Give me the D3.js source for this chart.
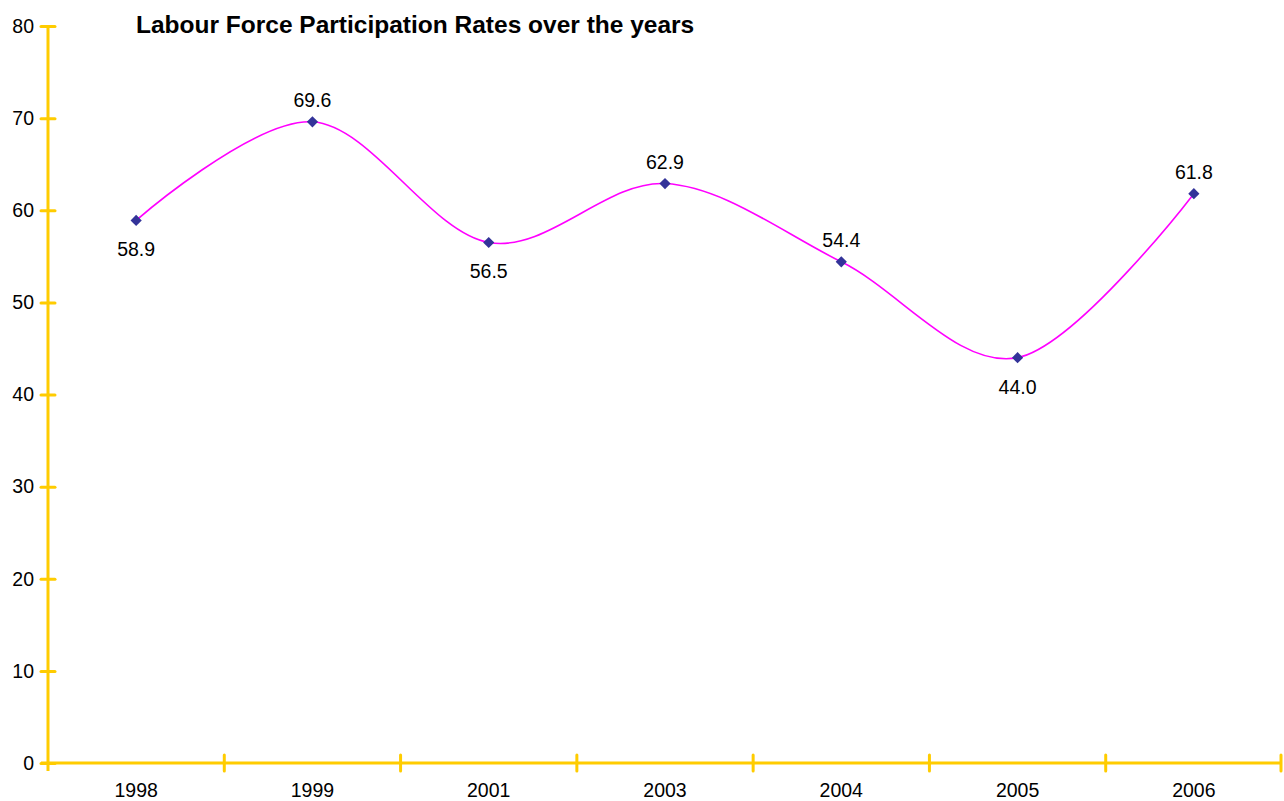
<!DOCTYPE html>
<html><head><meta charset="utf-8">
<script src="https://cdn.jsdelivr.net/npm/d3@7"></script>
<style>body{margin:0;background:#fff;}svg{display:block;}</style>
</head><body>
<svg id="c" width="1284" height="801"></svg>
<script>
const categories = ["1998","1999","2001","2003","2004","2005","2006"];
const values = [58.9, 69.6, 56.5, 62.9, 54.4, 44.0, 61.8];
const labelPos = ["below","above","below","above","above","below","above"];
const yTicks = [0,10,20,30,40,50,60,70,80];
const title = "Labour Force Participation Rates over the years";

const svg = d3.select("#c");
const font = "Liberation Sans, Arial, sans-serif";
const x = d3.scaleBand().domain(categories).range([48, 1282]);
const y = d3.scaleLinear().domain([0, 80]).range([763, 26]);
const axisColor = "#FFCC00";

// y axis
const ya = svg.append("g").attr("transform","translate(48,0)")
  .call(d3.axisLeft(y).tickValues(yTicks).tickSize(7).tickPadding(7));
ya.select(".domain").remove();
ya.selectAll(".tick line").attr("stroke",axisColor).attr("stroke-width",3).attr("x2",7).attr("x1",-7).attr("stroke-linecap","round");
ya.selectAll(".tick text").attr("font-family",font).attr("font-size",19.5).attr("fill","#000").attr("x",-14);
svg.append("line").attr("x1",48).attr("x2",48).attr("y1",y(80)).attr("y2",y(0)+8)
  .attr("stroke",axisColor).attr("stroke-width",3);

// x axis
svg.append("line").attr("x1",41).attr("x2",1282).attr("y1",y(0)).attr("y2",y(0))
  .attr("stroke",axisColor).attr("stroke-width",3);
const bounds = categories.map(c => x(c) + x.bandwidth());
svg.selectAll(".xt").data(bounds).enter().append("line")
  .attr("x1",d=>Math.min(d,1281)).attr("x2",d=>Math.min(d,1281))
  .attr("y1",y(0)-8).attr("y2",y(0)+8)
  .attr("stroke",axisColor).attr("stroke-width",3).attr("stroke-linecap","round");
svg.selectAll(".xl").data(categories).enter().append("text")
  .attr("x",d=>x(d)+x.bandwidth()/2).attr("y",797)
  .attr("text-anchor","middle").attr("font-family",font).attr("font-size",19.5).text(d=>d);

// title
svg.append("text").attr("x",136).attr("y",33).attr("font-family",font)
  .attr("font-size",24.5).attr("font-weight","bold").text(title);

// line
const pts = categories.map((c,i)=>[x(c)+x.bandwidth()/2, y(values[i])]);
svg.append("path").attr("d", d3.line().curve(d3.curveCardinal.tension(0))(pts))
  .attr("fill","none").attr("stroke","#FF00FF").attr("stroke-width",1.6);

// markers
svg.selectAll(".m").data(pts).enter().append("path")
  .attr("d", d3.symbol().type(d3.symbolDiamond2).size(80))
  .attr("transform",d=>`translate(${d[0]},${d[1]})`)
  .attr("fill","#333399");

// labels
svg.selectAll(".lbl").data(pts).enter().append("text")
  .attr("x",d=>d[0]).attr("y",(d,i)=> labelPos[i]==="above" ? d[1]-15 : d[1]+36)
  .attr("text-anchor","middle").attr("font-family",font).attr("font-size",19.5)
  .text((d,i)=>values[i].toFixed(1));
</script>
</body></html>
